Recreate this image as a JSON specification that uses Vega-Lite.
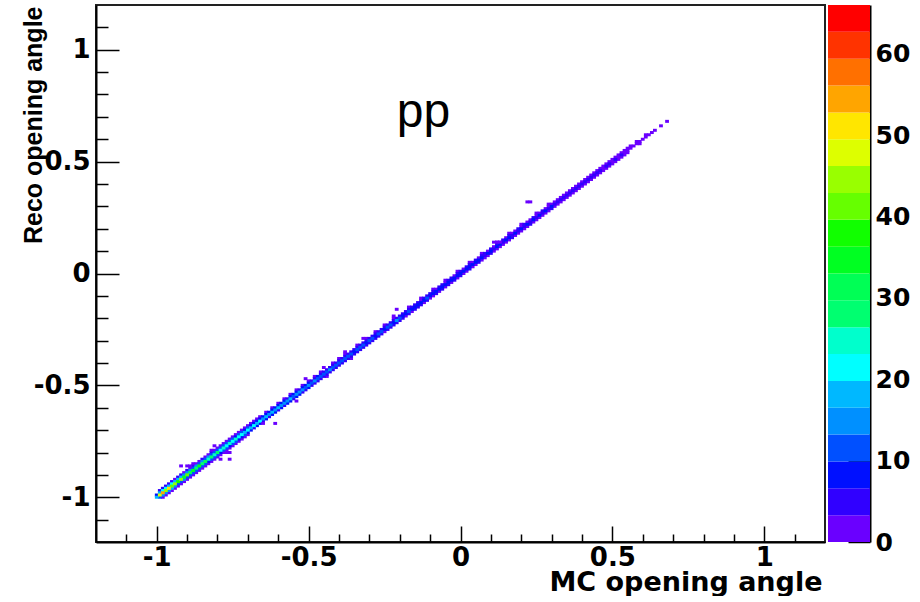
{
"$schema": "https://vega.github.io/schema/vega-lite/v6.json",
"background": "white",
"padding": {"left": 20, "top": 4, "right": 0, "bottom": 0},
"spacing": 2,
"config": {
  "view": {"stroke": null},
  "axis": {"labelFont": "DejaVu Sans", "labelFontWeight": "bold", "labelFontSize": 26, "labelColor": "#000", "tickColor": "#000", "domainColor": "#000", "grid": false, "labelOverlap": false, "labelFlush": false, "labelBound": false}
},
"datasets": {
  "cells": [
{"x":-1,"y":-1,"n":18},{"x":-1,"y":-0.99,"n":9},
{"x":-0.99,"y":-0.99,"n":48},{"x":-0.99,"y":-0.98,"n":18},{"x":-0.99,"y":-1,"n":12},{"x":-0.99,"y":-0.97,"n":4},
{"x":-0.98,"y":-0.98,"n":53},{"x":-0.98,"y":-0.97,"n":22},{"x":-0.98,"y":-0.99,"n":15},{"x":-0.98,"y":-0.96,"n":5},{"x":-0.98,"y":-1,"n":3},
{"x":-0.97,"y":-0.97,"n":44},{"x":-0.97,"y":-0.96,"n":20},{"x":-0.97,"y":-0.98,"n":16},{"x":-0.97,"y":-0.95,"n":6},{"x":-0.97,"y":-0.99,"n":3},
{"x":-0.96,"y":-0.96,"n":50},{"x":-0.96,"y":-0.95,"n":19},{"x":-0.96,"y":-0.97,"n":14},{"x":-0.96,"y":-0.94,"n":4},{"x":-0.96,"y":-0.98,"n":2},
{"x":-0.95,"y":-0.95,"n":41},{"x":-0.95,"y":-0.94,"n":23},{"x":-0.95,"y":-0.96,"n":17},{"x":-0.95,"y":-0.93,"n":5},{"x":-0.95,"y":-0.97,"n":3},
{"x":-0.94,"y":-0.94,"n":46},{"x":-0.94,"y":-0.93,"n":17},{"x":-0.94,"y":-0.95,"n":15},{"x":-0.94,"y":-0.92,"n":3},{"x":-0.94,"y":-0.96,"n":2},
{"x":-0.93,"y":-0.93,"n":39},{"x":-0.93,"y":-0.92,"n":19},{"x":-0.93,"y":-0.94,"n":13},{"x":-0.93,"y":-0.91,"n":4},{"x":-0.93,"y":-0.95,"n":2},
{"x":-0.92,"y":-0.92,"n":43},{"x":-0.92,"y":-0.91,"n":18},{"x":-0.92,"y":-0.93,"n":12},{"x":-0.92,"y":-0.9,"n":5},{"x":-0.92,"y":-0.94,"n":1},
{"x":-0.91,"y":-0.91,"n":36},{"x":-0.91,"y":-0.9,"n":15},{"x":-0.91,"y":-0.92,"n":16},{"x":-0.91,"y":-0.89,"n":3},{"x":-0.91,"y":-0.93,"n":2},
{"x":-0.9,"y":-0.9,"n":40},{"x":-0.9,"y":-0.89,"n":16},{"x":-0.9,"y":-0.91,"n":11},{"x":-0.9,"y":-0.88,"n":4},{"x":-0.9,"y":-0.92,"n":2},
{"x":-0.89,"y":-0.89,"n":31},{"x":-0.89,"y":-0.88,"n":14},{"x":-0.89,"y":-0.9,"n":12},{"x":-0.89,"y":-0.87,"n":3},{"x":-0.89,"y":-0.91,"n":2},
{"x":-0.88,"y":-0.88,"n":34},{"x":-0.88,"y":-0.87,"n":13},{"x":-0.88,"y":-0.89,"n":10},{"x":-0.88,"y":-0.86,"n":4},{"x":-0.88,"y":-0.9,"n":1},
{"x":-0.87,"y":-0.87,"n":28},{"x":-0.87,"y":-0.86,"n":15},{"x":-0.87,"y":-0.88,"n":11},{"x":-0.87,"y":-0.85,"n":3},{"x":-0.87,"y":-0.89,"n":2},
{"x":-0.86,"y":-0.86,"n":33},{"x":-0.86,"y":-0.85,"n":12},{"x":-0.86,"y":-0.87,"n":13},{"x":-0.86,"y":-0.84,"n":2},{"x":-0.86,"y":-0.88,"n":2},
{"x":-0.85,"y":-0.85,"n":27},{"x":-0.85,"y":-0.84,"n":14},{"x":-0.85,"y":-0.86,"n":10},{"x":-0.85,"y":-0.83,"n":4},{"x":-0.85,"y":-0.87,"n":1},
{"x":-0.84,"y":-0.84,"n":30},{"x":-0.84,"y":-0.83,"n":13},{"x":-0.84,"y":-0.85,"n":11},{"x":-0.84,"y":-0.82,"n":3},{"x":-0.84,"y":-0.86,"n":1},
{"x":-0.83,"y":-0.83,"n":25},{"x":-0.83,"y":-0.82,"n":15},{"x":-0.83,"y":-0.84,"n":9},{"x":-0.83,"y":-0.81,"n":2},{"x":-0.83,"y":-0.85,"n":2},
{"x":-0.82,"y":-0.82,"n":29},{"x":-0.82,"y":-0.81,"n":11},{"x":-0.82,"y":-0.83,"n":12},{"x":-0.82,"y":-0.8,"n":4},{"x":-0.82,"y":-0.84,"n":1},
{"x":-0.81,"y":-0.81,"n":24},{"x":-0.81,"y":-0.8,"n":13},{"x":-0.81,"y":-0.82,"n":10},{"x":-0.81,"y":-0.79,"n":3},{"x":-0.81,"y":-0.83,"n":1},
{"x":-0.8,"y":-0.8,"n":27},{"x":-0.8,"y":-0.79,"n":10},{"x":-0.8,"y":-0.81,"n":11},{"x":-0.8,"y":-0.78,"n":2},{"x":-0.8,"y":-0.82,"n":2},
{"x":-0.79,"y":-0.79,"n":23},{"x":-0.79,"y":-0.78,"n":12},{"x":-0.79,"y":-0.8,"n":9},{"x":-0.79,"y":-0.77,"n":3},{"x":-0.79,"y":-0.81,"n":1},
{"x":-0.78,"y":-0.78,"n":26},{"x":-0.78,"y":-0.77,"n":11},{"x":-0.78,"y":-0.79,"n":10},{"x":-0.78,"y":-0.76,"n":2},{"x":-0.78,"y":-0.8,"n":1},
{"x":-0.77,"y":-0.77,"n":22},{"x":-0.77,"y":-0.76,"n":10},{"x":-0.77,"y":-0.78,"n":11},{"x":-0.77,"y":-0.75,"n":2},{"x":-0.77,"y":-0.79,"n":1},
{"x":-0.76,"y":-0.76,"n":25},{"x":-0.76,"y":-0.75,"n":12},{"x":-0.76,"y":-0.77,"n":8},{"x":-0.76,"y":-0.74,"n":3},{"x":-0.76,"y":-0.78,"n":1},
{"x":-0.75,"y":-0.75,"n":21},{"x":-0.75,"y":-0.74,"n":11},{"x":-0.75,"y":-0.76,"n":10},{"x":-0.75,"y":-0.73,"n":2},{"x":-0.75,"y":-0.77,"n":1},
{"x":-0.74,"y":-0.74,"n":24},{"x":-0.74,"y":-0.73,"n":9},{"x":-0.74,"y":-0.75,"n":10},{"x":-0.74,"y":-0.72,"n":2},{"x":-0.74,"y":-0.76,"n":1},
{"x":-0.73,"y":-0.73,"n":20},{"x":-0.73,"y":-0.72,"n":11},{"x":-0.73,"y":-0.74,"n":8},{"x":-0.73,"y":-0.71,"n":1},{"x":-0.73,"y":-0.75,"n":1},
{"x":-0.72,"y":-0.72,"n":23},{"x":-0.72,"y":-0.71,"n":10},{"x":-0.72,"y":-0.73,"n":9},{"x":-0.72,"y":-0.7,"n":3},{"x":-0.72,"y":-0.74,"n":1},
{"x":-0.71,"y":-0.71,"n":19},{"x":-0.71,"y":-0.7,"n":9},{"x":-0.71,"y":-0.72,"n":10},{"x":-0.71,"y":-0.69,"n":2},{"x":-0.71,"y":-0.73,"n":1},
{"x":-0.7,"y":-0.7,"n":22},{"x":-0.7,"y":-0.69,"n":11},{"x":-0.7,"y":-0.71,"n":8},{"x":-0.7,"y":-0.68,"n":2},{"x":-0.7,"y":-0.72,"n":1},
{"x":-0.69,"y":-0.69,"n":18},{"x":-0.69,"y":-0.68,"n":8},{"x":-0.69,"y":-0.7,"n":7},{"x":-0.69,"y":-0.67,"n":2},
{"x":-0.68,"y":-0.68,"n":21},{"x":-0.68,"y":-0.67,"n":9},{"x":-0.68,"y":-0.69,"n":6},{"x":-0.68,"y":-0.66,"n":2},
{"x":-0.67,"y":-0.67,"n":17},{"x":-0.67,"y":-0.66,"n":7},{"x":-0.67,"y":-0.68,"n":8},{"x":-0.67,"y":-0.65,"n":1},
{"x":-0.66,"y":-0.66,"n":20},{"x":-0.66,"y":-0.65,"n":9},{"x":-0.66,"y":-0.67,"n":7},{"x":-0.66,"y":-0.64,"n":2},
{"x":-0.65,"y":-0.65,"n":16},{"x":-0.65,"y":-0.64,"n":8},{"x":-0.65,"y":-0.66,"n":6},
{"x":-0.64,"y":-0.64,"n":19},{"x":-0.64,"y":-0.63,"n":7},{"x":-0.64,"y":-0.65,"n":8},{"x":-0.64,"y":-0.62,"n":1},
{"x":-0.63,"y":-0.63,"n":15},{"x":-0.63,"y":-0.62,"n":9},{"x":-0.63,"y":-0.64,"n":6},
{"x":-0.62,"y":-0.62,"n":18},{"x":-0.62,"y":-0.61,"n":8},{"x":-0.62,"y":-0.63,"n":7},{"x":-0.62,"y":-0.6,"n":2},
{"x":-0.61,"y":-0.61,"n":16},{"x":-0.61,"y":-0.6,"n":7},{"x":-0.61,"y":-0.62,"n":7},
{"x":-0.6,"y":-0.6,"n":17},{"x":-0.6,"y":-0.59,"n":8},{"x":-0.6,"y":-0.61,"n":6},{"x":-0.6,"y":-0.58,"n":1},
{"x":-0.59,"y":-0.59,"n":14},{"x":-0.59,"y":-0.58,"n":7},{"x":-0.59,"y":-0.6,"n":8},
{"x":-0.58,"y":-0.58,"n":16},{"x":-0.58,"y":-0.57,"n":9},{"x":-0.58,"y":-0.59,"n":6},{"x":-0.58,"y":-0.56,"n":2},
{"x":-0.57,"y":-0.57,"n":15},{"x":-0.57,"y":-0.56,"n":6},{"x":-0.57,"y":-0.58,"n":7},
{"x":-0.56,"y":-0.56,"n":17},{"x":-0.56,"y":-0.55,"n":8},{"x":-0.56,"y":-0.57,"n":7},{"x":-0.56,"y":-0.54,"n":1},
{"x":-0.55,"y":-0.55,"n":13},{"x":-0.55,"y":-0.54,"n":7},{"x":-0.55,"y":-0.56,"n":6},
{"x":-0.54,"y":-0.54,"n":15},{"x":-0.54,"y":-0.53,"n":8},{"x":-0.54,"y":-0.55,"n":7},{"x":-0.54,"y":-0.52,"n":1},
{"x":-0.53,"y":-0.53,"n":14},{"x":-0.53,"y":-0.52,"n":6},{"x":-0.53,"y":-0.54,"n":7},
{"x":-0.52,"y":-0.52,"n":16},{"x":-0.52,"y":-0.51,"n":7},{"x":-0.52,"y":-0.53,"n":6},{"x":-0.52,"y":-0.5,"n":1},
{"x":-0.51,"y":-0.51,"n":13},{"x":-0.51,"y":-0.5,"n":8},{"x":-0.51,"y":-0.52,"n":6},
{"x":-0.5,"y":-0.5,"n":15},{"x":-0.5,"y":-0.49,"n":7},{"x":-0.5,"y":-0.51,"n":7},{"x":-0.5,"y":-0.48,"n":1},
{"x":-0.49,"y":-0.49,"n":12},{"x":-0.49,"y":-0.48,"n":6},{"x":-0.49,"y":-0.5,"n":5},
{"x":-0.48,"y":-0.48,"n":14},{"x":-0.48,"y":-0.47,"n":5},{"x":-0.48,"y":-0.49,"n":6},{"x":-0.48,"y":-0.46,"n":2},
{"x":-0.47,"y":-0.47,"n":11},{"x":-0.47,"y":-0.46,"n":7},{"x":-0.47,"y":-0.48,"n":4},
{"x":-0.46,"y":-0.46,"n":13},{"x":-0.46,"y":-0.45,"n":5},{"x":-0.46,"y":-0.47,"n":6},{"x":-0.46,"y":-0.44,"n":1},
{"x":-0.45,"y":-0.45,"n":12},{"x":-0.45,"y":-0.44,"n":6},{"x":-0.45,"y":-0.46,"n":5},
{"x":-0.44,"y":-0.44,"n":11},{"x":-0.44,"y":-0.43,"n":5},{"x":-0.44,"y":-0.45,"n":5},{"x":-0.44,"y":-0.46,"n":1},
{"x":-0.43,"y":-0.43,"n":14},{"x":-0.43,"y":-0.42,"n":4},{"x":-0.43,"y":-0.44,"n":6},
{"x":-0.42,"y":-0.42,"n":10},{"x":-0.42,"y":-0.41,"n":6},{"x":-0.42,"y":-0.43,"n":4},{"x":-0.42,"y":-0.4,"n":2},
{"x":-0.41,"y":-0.41,"n":12},{"x":-0.41,"y":-0.4,"n":5},{"x":-0.41,"y":-0.42,"n":5},
{"x":-0.4,"y":-0.4,"n":11},{"x":-0.4,"y":-0.39,"n":5},{"x":-0.4,"y":-0.41,"n":4},{"x":-0.4,"y":-0.38,"n":1},
{"x":-0.39,"y":-0.39,"n":13},{"x":-0.39,"y":-0.38,"n":4},{"x":-0.39,"y":-0.4,"n":6},
{"x":-0.38,"y":-0.38,"n":10},{"x":-0.38,"y":-0.37,"n":6},{"x":-0.38,"y":-0.39,"n":4},{"x":-0.38,"y":-0.36,"n":2},
{"x":-0.37,"y":-0.37,"n":12},{"x":-0.37,"y":-0.36,"n":5},{"x":-0.37,"y":-0.38,"n":4},
{"x":-0.36,"y":-0.36,"n":11},{"x":-0.36,"y":-0.35,"n":4},{"x":-0.36,"y":-0.37,"n":5},{"x":-0.36,"y":-0.38,"n":1},
{"x":-0.35,"y":-0.35,"n":9},{"x":-0.35,"y":-0.34,"n":5},{"x":-0.35,"y":-0.36,"n":4},
{"x":-0.34,"y":-0.34,"n":12},{"x":-0.34,"y":-0.33,"n":6},{"x":-0.34,"y":-0.35,"n":4},{"x":-0.34,"y":-0.32,"n":2},
{"x":-0.33,"y":-0.33,"n":10},{"x":-0.33,"y":-0.32,"n":4},{"x":-0.33,"y":-0.34,"n":5},
{"x":-0.32,"y":-0.32,"n":11},{"x":-0.32,"y":-0.31,"n":5},{"x":-0.32,"y":-0.33,"n":4},
{"x":-0.31,"y":-0.31,"n":9},{"x":-0.31,"y":-0.3,"n":5},{"x":-0.31,"y":-0.32,"n":4},{"x":-0.31,"y":-0.29,"n":1},
{"x":-0.3,"y":-0.3,"n":12},{"x":-0.3,"y":-0.29,"n":4},{"x":-0.3,"y":-0.31,"n":5},
{"x":-0.29,"y":-0.29,"n":10},{"x":-0.29,"y":-0.28,"n":5},{"x":-0.29,"y":-0.3,"n":4},
{"x":-0.28,"y":-0.28,"n":9},{"x":-0.28,"y":-0.27,"n":4},{"x":-0.28,"y":-0.29,"n":4},{"x":-0.28,"y":-0.26,"n":2},
{"x":-0.27,"y":-0.27,"n":11},{"x":-0.27,"y":-0.26,"n":5},{"x":-0.27,"y":-0.28,"n":4},
{"x":-0.26,"y":-0.26,"n":10},{"x":-0.26,"y":-0.25,"n":4},{"x":-0.26,"y":-0.27,"n":5},
{"x":-0.25,"y":-0.25,"n":9},{"x":-0.25,"y":-0.24,"n":5},{"x":-0.25,"y":-0.26,"n":3},{"x":-0.25,"y":-0.23,"n":1},
{"x":-0.24,"y":-0.24,"n":11},{"x":-0.24,"y":-0.23,"n":4},{"x":-0.24,"y":-0.25,"n":4},
{"x":-0.23,"y":-0.23,"n":10},{"x":-0.23,"y":-0.22,"n":5},{"x":-0.23,"y":-0.24,"n":4},
{"x":-0.22,"y":-0.22,"n":9},{"x":-0.22,"y":-0.21,"n":4},{"x":-0.22,"y":-0.23,"n":4},{"x":-0.22,"y":-0.2,"n":1},
{"x":-0.21,"y":-0.21,"n":15},{"x":-0.21,"y":-0.2,"n":5},{"x":-0.21,"y":-0.22,"n":4},
{"x":-0.2,"y":-0.2,"n":10},{"x":-0.2,"y":-0.19,"n":4},{"x":-0.2,"y":-0.21,"n":5},
{"x":-0.19,"y":-0.19,"n":9},{"x":-0.19,"y":-0.18,"n":4},{"x":-0.19,"y":-0.2,"n":4},
{"x":-0.18,"y":-0.18,"n":8},{"x":-0.18,"y":-0.17,"n":5},{"x":-0.18,"y":-0.19,"n":3},
{"x":-0.17,"y":-0.17,"n":10},{"x":-0.17,"y":-0.16,"n":4},{"x":-0.17,"y":-0.18,"n":4},{"x":-0.17,"y":-0.15,"n":1},
{"x":-0.16,"y":-0.16,"n":8},{"x":-0.16,"y":-0.15,"n":4},{"x":-0.16,"y":-0.17,"n":3},
{"x":-0.15,"y":-0.15,"n":9},{"x":-0.15,"y":-0.14,"n":5},{"x":-0.15,"y":-0.16,"n":4},
{"x":-0.14,"y":-0.14,"n":7},{"x":-0.14,"y":-0.13,"n":4},{"x":-0.14,"y":-0.15,"n":4},
{"x":-0.13,"y":-0.13,"n":9},{"x":-0.13,"y":-0.12,"n":3},{"x":-0.13,"y":-0.14,"n":4},{"x":-0.13,"y":-0.11,"n":2},
{"x":-0.12,"y":-0.12,"n":8},{"x":-0.12,"y":-0.11,"n":4},{"x":-0.12,"y":-0.13,"n":3},
{"x":-0.11,"y":-0.11,"n":10},{"x":-0.11,"y":-0.1,"n":4},{"x":-0.11,"y":-0.12,"n":4},
{"x":-0.1,"y":-0.1,"n":7},{"x":-0.1,"y":-0.09,"n":5},{"x":-0.1,"y":-0.11,"n":3},
{"x":-0.09,"y":-0.09,"n":9},{"x":-0.09,"y":-0.08,"n":4},{"x":-0.09,"y":-0.1,"n":3},{"x":-0.09,"y":-0.07,"n":1},
{"x":-0.08,"y":-0.08,"n":8},{"x":-0.08,"y":-0.07,"n":3},{"x":-0.08,"y":-0.09,"n":4},
{"x":-0.07,"y":-0.07,"n":7},{"x":-0.07,"y":-0.06,"n":4},{"x":-0.07,"y":-0.08,"n":3},
{"x":-0.06,"y":-0.06,"n":9},{"x":-0.06,"y":-0.05,"n":4},{"x":-0.06,"y":-0.07,"n":4},
{"x":-0.05,"y":-0.05,"n":8},{"x":-0.05,"y":-0.04,"n":3},{"x":-0.05,"y":-0.06,"n":3},{"x":-0.05,"y":-0.03,"n":1},
{"x":-0.04,"y":-0.04,"n":7},{"x":-0.04,"y":-0.03,"n":4},{"x":-0.04,"y":-0.05,"n":4},
{"x":-0.03,"y":-0.03,"n":9},{"x":-0.03,"y":-0.02,"n":4},{"x":-0.03,"y":-0.04,"n":3},
{"x":-0.02,"y":-0.02,"n":8},{"x":-0.02,"y":-0.01,"n":3},{"x":-0.02,"y":-0.03,"n":4},
{"x":-0.01,"y":-0.01,"n":7},{"x":-0.01,"y":0,"n":4},{"x":-0.01,"y":-0.02,"n":3},{"x":-0.01,"y":0.01,"n":1},
{"x":0,"y":0,"n":9},{"x":0,"y":0.01,"n":4},{"x":0,"y":-0.01,"n":4},
{"x":0.01,"y":0.01,"n":8},{"x":0.01,"y":0.02,"n":3},{"x":0.01,"y":0,"n":3},
{"x":0.02,"y":0.02,"n":7},{"x":0.02,"y":0.03,"n":4},{"x":0.02,"y":0.01,"n":3},
{"x":0.03,"y":0.03,"n":8},{"x":0.03,"y":0.04,"n":4},{"x":0.03,"y":0.02,"n":4},{"x":0.03,"y":0.05,"n":1},
{"x":0.04,"y":0.04,"n":7},{"x":0.04,"y":0.05,"n":3},{"x":0.04,"y":0.03,"n":3},
{"x":0.05,"y":0.05,"n":9},{"x":0.05,"y":0.06,"n":4},{"x":0.05,"y":0.04,"n":3},
{"x":0.06,"y":0.06,"n":7},{"x":0.06,"y":0.07,"n":3},{"x":0.06,"y":0.05,"n":4},
{"x":0.07,"y":0.07,"n":8},{"x":0.07,"y":0.08,"n":4},{"x":0.07,"y":0.06,"n":3},{"x":0.07,"y":0.09,"n":1},
{"x":0.08,"y":0.08,"n":6},{"x":0.08,"y":0.09,"n":4},{"x":0.08,"y":0.07,"n":3},
{"x":0.09,"y":0.09,"n":8},{"x":0.09,"y":0.1,"n":3},{"x":0.09,"y":0.08,"n":3},
{"x":0.1,"y":0.1,"n":7},{"x":0.1,"y":0.11,"n":4},{"x":0.1,"y":0.09,"n":4},
{"x":0.11,"y":0.11,"n":6},{"x":0.11,"y":0.12,"n":3},{"x":0.11,"y":0.1,"n":3},
{"x":0.12,"y":0.12,"n":8},{"x":0.12,"y":0.13,"n":4},{"x":0.12,"y":0.11,"n":3},{"x":0.12,"y":0.14,"n":1},
{"x":0.13,"y":0.13,"n":7},{"x":0.13,"y":0.14,"n":3},{"x":0.13,"y":0.12,"n":3},
{"x":0.14,"y":0.14,"n":6},{"x":0.14,"y":0.15,"n":4},{"x":0.14,"y":0.13,"n":3},
{"x":0.15,"y":0.15,"n":8},{"x":0.15,"y":0.16,"n":3},{"x":0.15,"y":0.14,"n":3},
{"x":0.16,"y":0.16,"n":7},{"x":0.16,"y":0.17,"n":4},{"x":0.16,"y":0.15,"n":3},{"x":0.16,"y":0.18,"n":1},
{"x":0.17,"y":0.17,"n":6},{"x":0.17,"y":0.18,"n":3},{"x":0.17,"y":0.16,"n":4},
{"x":0.18,"y":0.18,"n":8},{"x":0.18,"y":0.19,"n":3},{"x":0.18,"y":0.17,"n":3},
{"x":0.19,"y":0.19,"n":6},{"x":0.19,"y":0.2,"n":4},{"x":0.19,"y":0.18,"n":3},
{"x":0.2,"y":0.2,"n":7},{"x":0.2,"y":0.21,"n":3},{"x":0.2,"y":0.19,"n":3},{"x":0.2,"y":0.22,"n":1},
{"x":0.21,"y":0.21,"n":6},{"x":0.21,"y":0.22,"n":4},{"x":0.21,"y":0.2,"n":3},
{"x":0.22,"y":0.22,"n":7},{"x":0.22,"y":0.23,"n":3},{"x":0.22,"y":0.21,"n":3},
{"x":0.23,"y":0.23,"n":6},{"x":0.23,"y":0.24,"n":3},{"x":0.23,"y":0.22,"n":4},
{"x":0.24,"y":0.24,"n":7},{"x":0.24,"y":0.25,"n":4},{"x":0.24,"y":0.23,"n":3},
{"x":0.25,"y":0.25,"n":6},{"x":0.25,"y":0.26,"n":3},{"x":0.25,"y":0.24,"n":3},{"x":0.25,"y":0.27,"n":1},
{"x":0.26,"y":0.26,"n":7},{"x":0.26,"y":0.27,"n":3},{"x":0.26,"y":0.25,"n":3},
{"x":0.27,"y":0.27,"n":6},{"x":0.27,"y":0.28,"n":4},{"x":0.27,"y":0.26,"n":3},
{"x":0.28,"y":0.28,"n":8},{"x":0.28,"y":0.29,"n":3},{"x":0.28,"y":0.27,"n":3},
{"x":0.29,"y":0.29,"n":6},{"x":0.29,"y":0.3,"n":3},{"x":0.29,"y":0.28,"n":3},{"x":0.29,"y":0.31,"n":1},
{"x":0.3,"y":0.3,"n":7},{"x":0.3,"y":0.31,"n":3},{"x":0.3,"y":0.29,"n":4},
{"x":0.31,"y":0.31,"n":5},{"x":0.31,"y":0.32,"n":2},{"x":0.31,"y":0.3,"n":2},
{"x":0.32,"y":0.32,"n":6},{"x":0.32,"y":0.33,"n":3},{"x":0.32,"y":0.31,"n":1},
{"x":0.33,"y":0.33,"n":5},{"x":0.33,"y":0.34,"n":2},{"x":0.33,"y":0.32,"n":2},
{"x":0.34,"y":0.34,"n":6},{"x":0.34,"y":0.35,"n":2},{"x":0.34,"y":0.33,"n":1},
{"x":0.35,"y":0.35,"n":4},{"x":0.35,"y":0.36,"n":2},{"x":0.35,"y":0.34,"n":2},
{"x":0.36,"y":0.36,"n":5},{"x":0.36,"y":0.37,"n":3},{"x":0.36,"y":0.35,"n":1},
{"x":0.37,"y":0.37,"n":6},{"x":0.37,"y":0.38,"n":2},{"x":0.37,"y":0.36,"n":1},
{"x":0.38,"y":0.38,"n":4},{"x":0.38,"y":0.39,"n":2},{"x":0.38,"y":0.37,"n":2},
{"x":0.39,"y":0.39,"n":5},{"x":0.39,"y":0.4,"n":2},{"x":0.39,"y":0.38,"n":1},
{"x":0.4,"y":0.4,"n":4},{"x":0.4,"y":0.41,"n":3},{"x":0.4,"y":0.39,"n":1},
{"x":0.41,"y":0.41,"n":5},{"x":0.41,"y":0.42,"n":2},{"x":0.41,"y":0.4,"n":1},
{"x":0.42,"y":0.42,"n":4},{"x":0.42,"y":0.43,"n":2},{"x":0.42,"y":0.41,"n":2},
{"x":0.43,"y":0.43,"n":5},{"x":0.43,"y":0.44,"n":1},{"x":0.43,"y":0.42,"n":2},
{"x":0.44,"y":0.44,"n":4},{"x":0.44,"y":0.45,"n":2},{"x":0.44,"y":0.43,"n":1},
{"x":0.45,"y":0.45,"n":5},{"x":0.45,"y":0.46,"n":2},{"x":0.45,"y":0.44,"n":2},
{"x":0.46,"y":0.46,"n":4},{"x":0.46,"y":0.47,"n":3},{"x":0.46,"y":0.45,"n":1},
{"x":0.47,"y":0.47,"n":3},{"x":0.47,"y":0.48,"n":2},{"x":0.47,"y":0.46,"n":1},
{"x":0.48,"y":0.48,"n":4},{"x":0.48,"y":0.49,"n":2},{"x":0.48,"y":0.47,"n":1},
{"x":0.49,"y":0.49,"n":5},{"x":0.49,"y":0.5,"n":1},{"x":0.49,"y":0.48,"n":2},
{"x":0.5,"y":0.5,"n":3},{"x":0.5,"y":0.51,"n":2},{"x":0.5,"y":0.49,"n":1},
{"x":0.51,"y":0.51,"n":4},{"x":0.51,"y":0.52,"n":2},{"x":0.51,"y":0.5,"n":1},
{"x":0.52,"y":0.52,"n":3},{"x":0.52,"y":0.53,"n":1},{"x":0.52,"y":0.51,"n":1},
{"x":0.53,"y":0.53,"n":4},{"x":0.53,"y":0.54,"n":2},{"x":0.53,"y":0.52,"n":1},
{"x":0.54,"y":0.54,"n":3},{"x":0.54,"y":0.55,"n":1},{"x":0.54,"y":0.53,"n":1},
{"x":0.55,"y":0.55,"n":3},{"x":0.55,"y":0.56,"n":1},{"x":0.55,"y":0.54,"n":1},
{"x":0.56,"y":0.56,"n":2},{"x":0.56,"y":0.57,"n":1},
{"x":0.57,"y":0.57,"n":3},
{"x":0.58,"y":0.58,"n":2},{"x":0.58,"y":0.59,"n":1},
{"x":0.59,"y":0.59,"n":2},{"x":0.59,"y":0.58,"n":1},
{"x":0.6,"y":0.6,"n":3},
{"x":0.61,"y":0.61,"n":2},{"x":0.61,"y":0.62,"n":1},
{"x":0.62,"y":0.62,"n":1},
{"x":0.63,"y":0.63,"n":2},
{"x":0.64,"y":0.64,"n":1},
{"x":0.66,"y":0.66,"n":2},
{"x":0.68,"y":0.68,"n":1}
  ],
  "outliers": [
{"x":-0.92,"y":-0.86,"n":1},{"x":-0.9,"y":-0.86,"n":1},{"x":-0.89,"y":-0.86,"n":2},{"x":-0.88,"y":-0.85,"n":1},
{"x":-0.82,"y":-0.79,"n":2},{"x":-0.81,"y":-0.77,"n":1},
{"x":-0.79,"y":-0.83,"n":1},{"x":-0.76,"y":-0.83,"n":1},{"x":-0.76,"y":-0.8,"n":1},{"x":-0.77,"y":-0.8,"n":1},
{"x":-0.65,"y":-0.67,"n":1},{"x":-0.61,"y":-0.67,"n":1},{"x":-0.54,"y":-0.57,"n":1},{"x":-0.51,"y":-0.47,"n":1},
{"x":-0.45,"y":-0.42,"n":1},{"x":-0.38,"y":-0.35,"n":1},{"x":-0.32,"y":-0.29,"n":1},{"x":-0.21,"y":-0.16,"n":1},
{"x":-0.22,"y":-0.19,"n":2},{"x":0.11,"y":0.14,"n":1},{"x":0.12,"y":0.14,"n":1},{"x":0.13,"y":0.14,"n":1},
{"x":0.22,"y":0.32,"n":1},{"x":0.23,"y":0.32,"n":1}
  ],
  "bands": [
{"lo":0,"hi":3.3},{"lo":3.3,"hi":6.6},{"lo":6.6,"hi":9.9},{"lo":9.9,"hi":13.2},{"lo":13.2,"hi":16.5},
{"lo":16.5,"hi":19.8},{"lo":19.8,"hi":23.1},{"lo":23.1,"hi":26.4},{"lo":26.4,"hi":29.7},{"lo":29.7,"hi":33},
{"lo":33,"hi":36.3},{"lo":36.3,"hi":39.6},{"lo":39.6,"hi":42.9},{"lo":42.9,"hi":46.2},{"lo":46.2,"hi":49.5},
{"lo":49.5,"hi":52.8},{"lo":52.8,"hi":56.1},{"lo":56.1,"hi":59.4},{"lo":59.4,"hi":62.7},{"lo":62.7,"hi":66}
  ]
},
"hconcat": [
  {
    "width": 729,
    "height": 537,
    "view": {"stroke": "#222", "strokeWidth": 2},
    "resolve": {"axis": {"x": "independent", "y": "independent"}},
    "layer": [
      {
        "data": {"name": "cells"},
        "mark": {"type": "point", "shape": "M-1,-0.79H1V0.79H-1Z", "size": 14.4, "filled": true, "opacity": 1, "strokeWidth": 0},
        "encoding": {
          "x": {"field": "x", "type": "quantitative", "scale": {"domain": [-1.2, 1.2], "nice": false, "zero": false},
                "axis": {"orient": "bottom", "values": [-1, -0.5, 0, 0.5, 1], "labelExpr": "toString(datum.value)", "ticks": false, "domain": true, "domainWidth": 2, "labelPadding": 2,
                         "title": "MC opening angle", "titleFont": "DejaVu Sans", "titleFontWeight": "bold", "titleFontSize": 27, "titleColor": "#000", "titleAlign": "right", "titleX": 726, "titleY": 48, "titleBaseline": "alphabetic"}},
          "y": {"field": "y", "type": "quantitative", "scale": {"domain": [-1.2, 1.2], "nice": false, "zero": false},
                "axis": {"orient": "left", "values": [-1, -0.5, 0, 0.5, 1], "labelExpr": "toString(datum.value)", "ticks": false, "domain": true, "domainWidth": 2, "labelPadding": 6,
                         "title": "Reco opening angle", "titleFont": "Liberation Sans", "titleFontWeight": "bold", "titleFontSize": 25, "titleColor": "#000", "titleAngle": 270, "titleAlign": "right", "titleX": -55, "titleY": 1, "titleBaseline": "alphabetic"}},
          "color": {"field": "n", "type": "quantitative", "legend": null,
                    "scale": {"type": "threshold", "domain": [3.3, 6.6, 9.9, 13.2, 16.5, 19.8, 23.1, 26.4, 29.7, 33, 36.3, 39.6, 42.9, 46.2, 49.5, 52.8, 56.1, 59.4, 62.7],
                              "range": ["#6a00ff", "#3000ff", "#0010ff", "#0050ff", "#0090ff", "#00b8ff", "#00ffff", "#00ffcc", "#00ff70", "#00ff55", "#00ff22", "#11ff00", "#66ff00", "#99ff00", "#ddff00", "#ffe600", "#ffa500", "#ff7000", "#ff3300", "#ff0000"]}},
          "order": {"field": "n", "sort": "ascending"}
        }
      },
      {
        "data": {"name": "outliers"},
        "mark": {"type": "point", "shape": "M-1,-0.79H1V0.79H-1Z", "size": 14.4, "filled": true, "opacity": 1, "strokeWidth": 0},
        "encoding": {
          "x": {"field": "x", "type": "quantitative", "scale": {"domain": [-1.2, 1.2], "nice": false, "zero": false},
                "axis": {"orient": "bottom", "values": [-1, -0.5, 0, 0.5, 1], "labels": false, "domain": false, "ticks": true, "tickSize": -16, "tickWidth": 1.5, "title": null}},
          "y": {"field": "y", "type": "quantitative", "scale": {"domain": [-1.2, 1.2], "nice": false, "zero": false},
                "axis": {"orient": "left", "values": [-1, -0.5, 0, 0.5, 1], "labels": false, "domain": false, "ticks": true, "tickSize": -23, "tickWidth": 1.5, "title": null}},
          "color": {"field": "n", "type": "quantitative", "legend": null,
                    "scale": {"type": "threshold", "domain": [3.3, 6.6, 9.9, 13.2, 16.5, 19.8, 23.1, 26.4, 29.7, 33, 36.3, 39.6, 42.9, 46.2, 49.5, 52.8, 56.1, 59.4, 62.7],
                              "range": ["#6a00ff", "#3000ff", "#0010ff", "#0050ff", "#0090ff", "#00b8ff", "#00ffff", "#00ffcc", "#00ff70", "#00ff55", "#00ff22", "#11ff00", "#66ff00", "#99ff00", "#ddff00", "#ffe600", "#ffa500", "#ff7000", "#ff3300", "#ff0000"]}}
        }
      },
      {
        "data": {"values": [{}]},
        "mark": {"type": "text", "font": "Liberation Sans", "fontSize": 48, "align": "left", "baseline": "alphabetic", "color": "#000"},
        "encoding": {
          "x": {"datum": -0.21, "type": "quantitative", "scale": {"domain": [-1.2, 1.2], "nice": false, "zero": false},
                "axis": {"orient": "bottom", "values": [-1.1, -0.9, -0.8, -0.7, -0.6, -0.4, -0.3, -0.2, -0.1, 0.1, 0.2, 0.3, 0.4, 0.6, 0.7, 0.8, 0.9, 1.1], "labels": false, "domain": false, "ticks": true, "tickSize": -8, "tickWidth": 1.5, "title": null}},
          "y": {"datum": 0.656, "type": "quantitative", "scale": {"domain": [-1.2, 1.2], "nice": false, "zero": false},
                "axis": {"orient": "left", "values": [-1.1, -0.9, -0.8, -0.7, -0.6, -0.4, -0.3, -0.2, -0.1, 0.1, 0.2, 0.3, 0.4, 0.6, 0.7, 0.8, 0.9, 1.1], "labels": false, "domain": false, "ticks": true, "tickSize": -12, "tickWidth": 1.5, "title": null}},
          "text": {"value": "pp"}
        }
      }
    ]
  },
  {
    "width": 42,
    "height": 537,
    "data": {"name": "bands"},
    "mark": {"type": "rect"},
    "encoding": {
      "y": {"field": "lo", "type": "quantitative", "scale": {"domain": [0, 66], "nice": false, "zero": true},
            "axis": {"orient": "right", "values": [0, 10, 20, 30, 40, 50, 60], "tickSize": -22, "tickWidth": 1.5, "labelPadding": 27, "labelFontSize": 25, "domain": true, "domainWidth": 2, "title": null, "labelBaseline": "middle"}},
      "y2": {"field": "hi"},
      "color": {"field": "lo", "type": "quantitative", "legend": null,
                "scale": {"type": "threshold", "domain": [3.3, 6.6, 9.9, 13.2, 16.5, 19.8, 23.1, 26.4, 29.7, 33, 36.3, 39.6, 42.9, 46.2, 49.5, 52.8, 56.1, 59.4, 62.7],
                          "range": ["#6a00ff", "#3000ff", "#0010ff", "#0050ff", "#0090ff", "#00b8ff", "#00ffff", "#00ffcc", "#00ff70", "#00ff55", "#00ff22", "#11ff00", "#66ff00", "#99ff00", "#ddff00", "#ffe600", "#ffa500", "#ff7000", "#ff3300", "#ff0000"]}}
    }
  }
]
}
